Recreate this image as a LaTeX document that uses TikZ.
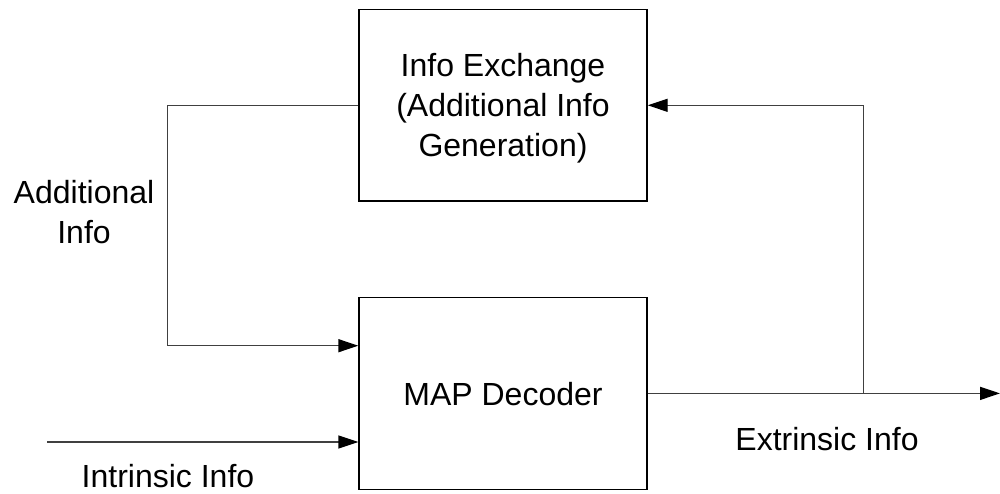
\documentclass[tikz,border=0pt]{standalone}
\usepackage{fontspec}
\setmainfont{Liberation Sans}
\usetikzlibrary{arrows.meta}
\begin{document}
\begin{tikzpicture}[x=1pt,y=-1pt,
  every node/.style={font=\fontsize{32}{40}\selectfont, inner sep=0pt},
  blockbox/.style={draw=black, line width=1.3pt, minimum width=288pt, minimum height=191.6pt, align=center, text depth=0pt},
  conn/.style={draw=black!75, line width=1.3pt},
  arr/.style={conn, -{Triangle[length=20pt,width=13pt,color=black]}},
  lbl/.style={align=center, text depth=0pt}]
\useasboundingbox (0,0) rectangle (1000,493);
\node[blockbox] (top) at (503,105.3) {Info Exchange\\(Additional Info\\Generation)};
\node[blockbox] (map) at (503,393.4) {MAP Decoder};
\coordinate (lc1) at (167.3,105.3);
\coordinate (lc2) at (167.3,345.7);
\coordinate (in) at (47,442);
\coordinate (br) at (863.3,393.4);
\coordinate (out) at (1000,393.4);
\draw[arr] (top.west) -- (lc1) -- (lc2) -- (map.west |- lc2);
\draw[arr] (in) -- (map.west |- in);
\draw[arr] (map.east) -- (out);
\draw[arr] (br) |- (top.east);
\node[lbl] (addl) at (84,211.5) {Additional\\Info};
\node[lbl] (extr) at (827,438.7) {Extrinsic Info};
\node[lbl] (intr) at (168,475.7) {Intrinsic Info};
\end{tikzpicture}
\end{document}
